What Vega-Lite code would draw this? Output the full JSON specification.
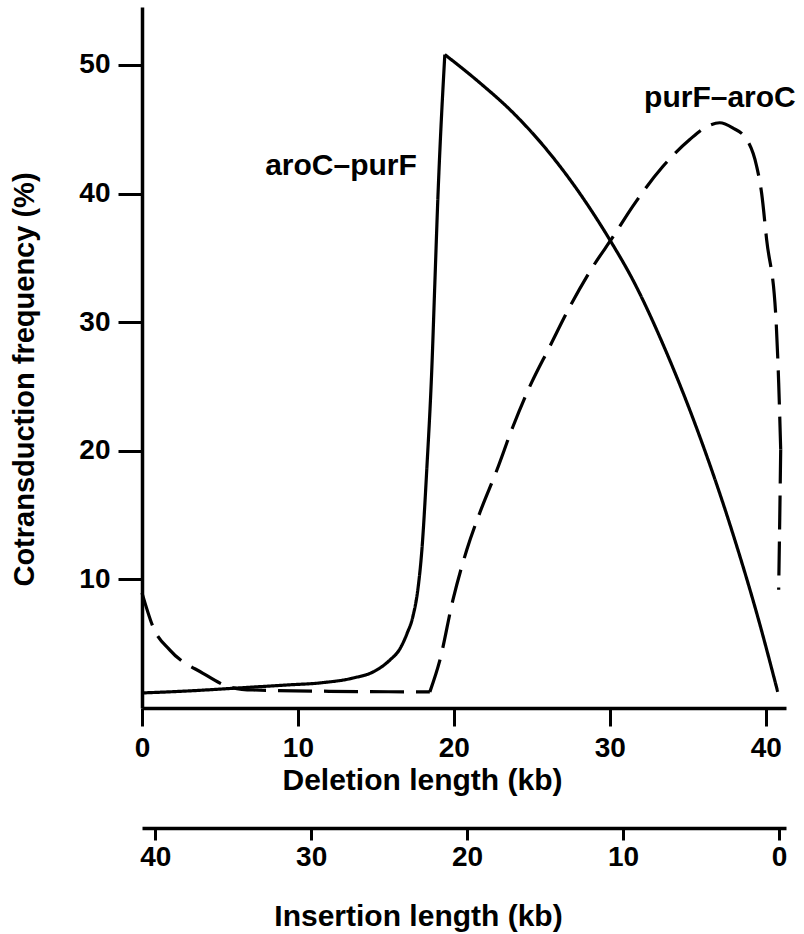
{
  "$schema": "https://vega.github.io/schema/vega-lite/v6.json",
  "width": 644,
  "height": 701,
  "autosize": {"type": "none"},
  "padding": {"left": 142, "top": 7, "right": 18, "bottom": 226},
  "background": "white",
  "config": {
    "view": {"stroke": null},
    "axis": {
      "grid": false,
      "domainColor": "black",
      "tickColor": "black",
      "labelColor": "black",
      "titleColor": "black",
      "labelFont": "Liberation Sans",
      "titleFont": "Liberation Sans",
      "labelFontWeight": "bold",
      "titleFontWeight": "bold",
      "labelFontSize": 28,
      "titleFontSize": 30,
      "domainWidth": 3.5,
      "tickWidth": 3,
      "labelFlush": false,
      "labelOverlap": false
    }
  },
  "datasets": {
    "curves": [
      {"series": "aroC–purF", "seg": "s1", "i": 1, "x": 0, "y": 1.17},
      {"series": "aroC–purF", "seg": "s1", "i": 2, "x": 2.88, "y": 1.32},
      {"series": "aroC–purF", "seg": "s1", "i": 3, "x": 6.09, "y": 1.55},
      {"series": "aroC–purF", "seg": "s1", "i": 4, "x": 9.29, "y": 1.79},
      {"series": "aroC–purF", "seg": "s1", "i": 5, "x": 11.41, "y": 1.95},
      {"series": "aroC–purF", "seg": "s1", "i": 6, "x": 13.53, "y": 2.33},
      {"series": "aroC–purF", "seg": "s1", "i": 7, "x": 14.81, "y": 2.8},
      {"series": "aroC–purF", "seg": "s1", "i": 8, "x": 15.9, "y": 3.73},
      {"series": "aroC–purF", "seg": "s1", "i": 9, "x": 16.54, "y": 4.6},
      {"series": "aroC–purF", "seg": "s1", "i": 10, "x": 17.0, "y": 5.8},
      {"series": "aroC–purF", "seg": "s1", "i": 11, "x": 17.37, "y": 7.1},
      {"series": "aroC–purF", "seg": "s1", "i": 12, "x": 17.7, "y": 9.3},
      {"series": "aroC–purF", "seg": "s1", "i": 13, "x": 17.95, "y": 12.3},
      {"series": "aroC–purF", "seg": "s1", "i": 14, "x": 18.27, "y": 18.7},
      {"series": "aroC–purF", "seg": "s1", "i": 15, "x": 18.59, "y": 26.5},
      {"series": "aroC–purF", "seg": "s1", "i": 16, "x": 18.78, "y": 33.0},
      {"series": "aroC–purF", "seg": "s1", "i": 17, "x": 18.97, "y": 39.5},
      {"series": "aroC–purF", "seg": "s1", "i": 18, "x": 19.42, "y": 50.8},
      {"series": "aroC–purF", "seg": "s2", "i": 18, "x": 19.42, "y": 50.8},
      {"series": "aroC–purF", "seg": "s2", "i": 19, "x": 21.67, "y": 48.6},
      {"series": "aroC–purF", "seg": "s2", "i": 20, "x": 23.78, "y": 46.3},
      {"series": "aroC–purF", "seg": "s2", "i": 21, "x": 25.96, "y": 43.4},
      {"series": "aroC–purF", "seg": "s2", "i": 22, "x": 28.08, "y": 40.0},
      {"series": "aroC–purF", "seg": "s2", "i": 23, "x": 30.0, "y": 36.4},
      {"series": "aroC–purF", "seg": "s2", "i": 24, "x": 31.47, "y": 33.3},
      {"series": "aroC–purF", "seg": "s2", "i": 25, "x": 33.65, "y": 27.6},
      {"series": "aroC–purF", "seg": "s2", "i": 26, "x": 35.77, "y": 21.1},
      {"series": "aroC–purF", "seg": "s2", "i": 27, "x": 37.88, "y": 13.6},
      {"series": "aroC–purF", "seg": "s2", "i": 28, "x": 39.6, "y": 6.6},
      {"series": "aroC–purF", "seg": "s2", "i": 29, "x": 40.77, "y": 1.25},
      {"series": "purF–aroC", "seg": "d1", "i": 1, "x": 0, "y": 8.95},
      {"series": "purF–aroC", "seg": "d1", "i": 2, "x": 0.71, "y": 6.3},
      {"series": "purF–aroC", "seg": "d1", "i": 3, "x": 1.79, "y": 4.5},
      {"series": "purF–aroC", "seg": "d1", "i": 4, "x": 3.91, "y": 2.7},
      {"series": "purF–aroC", "seg": "d1", "i": 5, "x": 5.64, "y": 1.63},
      {"series": "purF–aroC", "seg": "d1", "i": 6, "x": 7.12, "y": 1.4},
      {"series": "purF–aroC", "seg": "d1", "i": 7, "x": 12.0, "y": 1.3},
      {"series": "purF–aroC", "seg": "d1", "i": 8, "x": 18.46, "y": 1.25},
      {"series": "purF–aroC", "seg": "d2", "i": 8, "x": 18.46, "y": 1.25},
      {"series": "purF–aroC", "seg": "d2", "i": 9, "x": 19.1, "y": 3.7},
      {"series": "purF–aroC", "seg": "d2", "i": 10, "x": 19.94, "y": 8.4},
      {"series": "purF–aroC", "seg": "d2", "i": 11, "x": 20.83, "y": 12.3},
      {"series": "purF–aroC", "seg": "d2", "i": 12, "x": 21.67, "y": 15.2},
      {"series": "purF–aroC", "seg": "d2", "i": 13, "x": 22.76, "y": 18.5},
      {"series": "purF–aroC", "seg": "d2", "i": 14, "x": 23.78, "y": 21.85},
      {"series": "purF–aroC", "seg": "d2", "i": 15, "x": 24.87, "y": 25.0},
      {"series": "purF–aroC", "seg": "d2", "i": 16, "x": 26.15, "y": 28.1},
      {"series": "purF–aroC", "seg": "d2", "i": 17, "x": 27.44, "y": 31.2},
      {"series": "purF–aroC", "seg": "d2", "i": 18, "x": 28.91, "y": 34.3},
      {"series": "purF–aroC", "seg": "d2", "i": 19, "x": 30.19, "y": 36.6},
      {"series": "purF–aroC", "seg": "d2", "i": 20, "x": 31.47, "y": 39.0},
      {"series": "purF–aroC", "seg": "d2", "i": 21, "x": 33.4, "y": 42.1},
      {"series": "purF–aroC", "seg": "d2", "i": 22, "x": 35.13, "y": 44.2},
      {"series": "purF–aroC", "seg": "d2", "i": 23, "x": 36.22, "y": 45.2},
      {"series": "purF–aroC", "seg": "d2", "i": 24, "x": 37.05, "y": 45.5},
      {"series": "purF–aroC", "seg": "d2", "i": 25, "x": 37.88, "y": 45.1},
      {"series": "purF–aroC", "seg": "d2", "i": 26, "x": 38.78, "y": 44.2},
      {"series": "purF–aroC", "seg": "d2", "i": 27, "x": 39.42, "y": 42.1},
      {"series": "purF–aroC", "seg": "d2", "i": 28, "x": 39.74, "y": 40.0},
      {"series": "purF–aroC", "seg": "d2", "i": 29, "x": 40.06, "y": 36.4},
      {"series": "purF–aroC", "seg": "d2", "i": 30, "x": 40.64, "y": 30.6},
      {"series": "purF–aroC", "seg": "d2", "i": 31, "x": 40.83, "y": 25.3},
      {"series": "purF–aroC", "seg": "d2", "i": 32, "x": 40.96, "y": 20.1},
      {"series": "purF–aroC", "seg": "d3", "i": 32, "x": 40.96, "y": 20.1},
      {"series": "purF–aroC", "seg": "d3", "i": 33, "x": 40.9, "y": 14.8},
      {"series": "purF–aroC", "seg": "d3", "i": 34, "x": 40.83, "y": 9.2}
    ],
    "labels": [
      {"text": "aroC–purF", "x": 7.9, "y": 41.45},
      {"text": "purF–aroC", "x": 32.2, "y": 46.7}
    ],
    "insertion": [
      {"ins": 0},
      {"ins": 40}
    ]
  },
  "layer": [
    {
      "layer": [
        {
          "data": {"name": "curves"},
          "transform": [{"filter": "datum.seg != 'd3'"}],
          "mark": {"type": "line", "color": "black", "strokeWidth": 3.2, "interpolate": "monotone"},
          "encoding": {
            "x": {
              "field": "x",
              "type": "quantitative",
              "scale": {"domain": [0, 41.3], "nice": false, "zero": false},
              "axis": {
                "title": "Deletion length (kb)",
                "values": [0, 10, 20, 30, 40],
                "format": "d",
                "tickSize": 18,
                "labelPadding": 8,
                "titlePadding": 3,
                "titleX": 280
              }
            },
            "y": {
              "field": "y",
              "type": "quantitative",
              "scale": {"domain": [0, 54.5], "nice": false, "zero": false},
              "axis": {
                "title": "Cotransduction frequency (%)",
                "titleFontSize": 29,
                "values": [10, 20, 30, 40, 50],
                "format": "d",
                "tickSize": 24,
                "labelPadding": 8,
                "titlePadding": 39,
                "titleY": 372
              }
            },
            "detail": {"field": "seg"},
            "order": {"field": "i", "type": "quantitative"},
            "strokeDash": {
              "field": "series",
              "type": "nominal",
              "scale": {"domain": ["aroC–purF", "purF–aroC"], "range": [[1, 0], [34, 12]]},
              "legend": null
            }
          }
        },
        {
          "data": {"name": "curves"},
          "transform": [{"filter": "datum.seg == 'd3'"}],
          "mark": {"type": "line", "color": "black", "strokeWidth": 3.2, "interpolate": "linear"},
          "encoding": {
            "x": {"field": "x", "type": "quantitative"},
            "y": {"field": "y", "type": "quantitative"},
            "detail": {"field": "seg"},
            "order": {"field": "i", "type": "quantitative"},
            "strokeDash": {"field": "series", "type": "nominal", "legend": null}
          }
        },
        {
          "data": {"name": "labels"},
          "mark": {"type": "text", "font": "Liberation Sans", "fontWeight": "bold", "fontSize": 30, "align": "left", "baseline": "alphabetic", "color": "black"},
          "encoding": {
            "x": {"field": "x", "type": "quantitative"},
            "y": {"field": "y", "type": "quantitative"},
            "text": {"field": "text"}
          }
        }
      ]
    },
    {
      "data": {"name": "insertion"},
      "mark": {"type": "point", "opacity": 0},
      "encoding": {
        "x": {
          "field": "ins",
          "type": "quantitative",
          "scale": {"domain": [-0.45, 40.85], "reverse": true, "nice": false, "zero": false},
          "axis": {
            "title": "Insertion length (kb)",
            "orient": "bottom",
            "offset": 120,
            "values": [0, 10, 20, 30, 40],
            "format": "d",
            "tickSize": 12,
            "labelPadding": 3,
            "titlePadding": 30,
            "titleX": 276
          }
        }
      }
    }
  ],
  "resolve": {"scale": {"x": "independent"}, "axis": {"x": "independent"}}
}
